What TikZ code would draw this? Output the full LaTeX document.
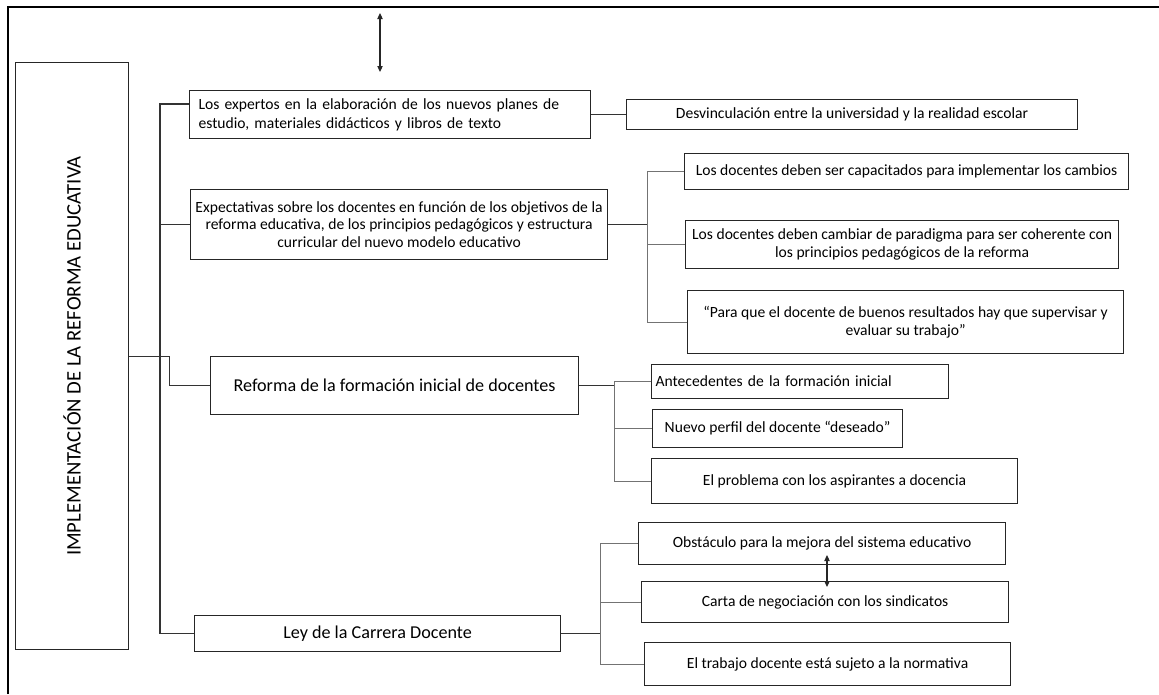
\documentclass[tikz,border=0pt]{standalone}
\usepackage{fontspec}
\usepackage{graphicx}
\setmainfont{Carlito}
\usetikzlibrary{arrows.meta}
\newcommand\fsmall{\fontsize{11.7}{13.2}\selectfont}
\newcommand\fbig{\fontsize{13.6}{15}\selectfont}
\newcommand\fmain{\fontsize{15.5}{17}\selectfont}
\tikzset{
  bx/.style={draw=black!85, line width=0.85pt, inner sep=0pt, anchor=north west, align=center, font=\fsmall, text=black},
  cn/.style={draw=black!80, line width=0.85pt},
  br/.style={draw=black!55, line width=0.85pt},
  dbl/.style={{Triangle[length=4.5pt,width=4pt]}-{Triangle[length=4.5pt,width=4pt]}, line width=0.8pt, draw=black!85, fill=black!85},
  frame/.style={draw=black, line width=2pt}
}
\begin{document}
\begin{tikzpicture}[x=0.75pt,y=-0.75pt]
\useasboundingbox (0,0) rectangle (1159,694);
\draw[frame] (8,694) -- (8,7) -- (1159,7);

% main
\node[bx, minimum width=84.75pt, minimum height=440.25pt, font=\fmain] (main) at (15,62)
  {\rotatebox{90}{IMPLEMENTACIÓN DE LA REFORMA EDUCATIVA}};

% level 1
\node[bx, minimum width=300.75pt, minimum height=36pt, inner xsep=6.75pt, text width=287.25pt, align=left,
  font=\fontsize{11.7}{14.2}\selectfont] (exp) at (189,90)
  {Los expertos en la elaboración de los nuevos planes de\\estudio, materiales didácticos y libros de texto};
\node[bx, minimum width=312.75pt, minimum height=52.5pt] (expect) at (190,189)
  {Expectativas sobre los docentes en función de los objetivos de la\\reforma educativa, de los principios pedagógicos y estructura\\curricular del nuevo modelo educativo};
\node[bx, minimum width=276pt, minimum height=43.5pt, font=\fbig] (ref) at (210,356)
  {Reforma de la formación inicial de docentes};
\node[bx, minimum width=274.5pt, minimum height=27pt, font=\fbig] (ley) at (194,615)
  {Ley de la Carrera Docente};

% level 2
\node[bx, minimum width=338.25pt, minimum height=22.5pt] (desv) at (626,99)
  {Desvinculación entre la universidad y la realidad escolar};
\node[bx, minimum width=333pt, minimum height=27pt] (ca) at (684,153)
  {Los docentes deben ser capacitados para implementar los cambios};
\node[bx, minimum width=324.75pt, minimum height=36pt] (cb) at (685,220)
  {Los docentes deben cambiar de paradigma para ser coherente con\\los principios pedagógicos de la reforma};
\node[bx, minimum width=327pt, minimum height=47.25pt] (cc) at (687,290)
  {“Para que el docente de buenos resultados hay que supervisar y\\evaluar su trabajo”};
\node[bx, minimum width=222.75pt, minimum height=25.5pt, inner xsep=3pt, text width=216.75pt, align=left] (ra) at (651,364)
  {Antecedentes de la formación inicial};
\node[bx, minimum width=187.5pt, minimum height=28.5pt] (rb) at (652,409)
  {Nuevo perfil del docente “deseado”};
\node[bx, minimum width=274.5pt, minimum height=33.75pt] (rc) at (651,458)
  {El problema con los aspirantes a docencia};
\node[bx, minimum width=275.25pt, minimum height=31.5pt] (la) at (638,522)
  {Obstáculo para la mejora del sistema educativo};
\node[bx, minimum width=275.25pt, minimum height=30.75pt] (lb) at (641,581)
  {Carta de negociación con los sindicatos};
\node[bx, minimum width=274.5pt, minimum height=32.25pt] (lc) at (644,642)
  {El trabajo docente está sujeto a la normativa};

% trunk
\coordinate (t1) at (160,104);
\draw[cn] (exp.west |- t1) -- (t1) |- (ley.west);
\draw[cn] (expect.west) -- (expect.west -| t1);
\draw[cn] (main.east) -- ++(40,0) |- (ref.west);

% branches
\draw[cn] (exp.east) -- (desv.west);

\draw[cn] (expect.east) -- ++(39,0) coordinate (b2);
\draw[br] (ca.west) -| (b2) |- (cc.west);
\draw[br] (b2 |- cb.west) -- (cb.west);

\draw[cn] (ref.east) -- ++(35,0) coordinate (b3);
\draw[br] (ra.west) -| (b3) |- (rc.west);
\draw[br] (b3 |- rb.west) -- (rb.west);

\draw[cn] (ley.east) -- ++(39,0) coordinate (b4);
\draw[br] (la.west) -| (b4) |- (lc.west);
\draw[br] (b4 |- lb.west) -- (lb.west);

% arrows
\coordinate (u1) at (380,13);
\coordinate (u2) at (380,72);
\draw[dbl] (u1) -- (u2);
\coordinate (d1) at (827,555);
\coordinate (d2) at (827,587);
\draw[dbl] (d1) -- (d2);
\end{tikzpicture}
\end{document}
